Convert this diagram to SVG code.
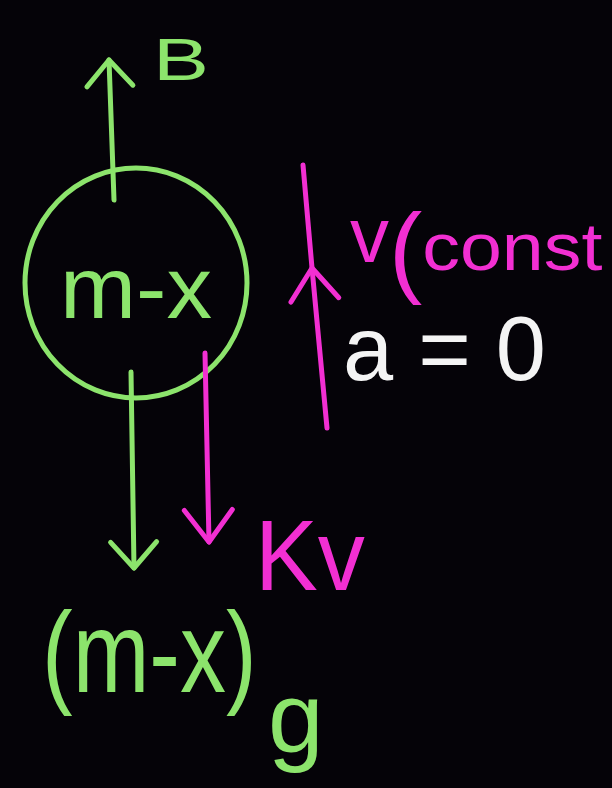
<svg xmlns="http://www.w3.org/2000/svg" width="612" height="788" viewBox="0 0 612 788">
<style>
.g{fill:#8ce46c;font-family:"Liberation Sans",Arial,sans-serif}
.p{fill:#f22fd2;font-family:"Liberation Sans",Arial,sans-serif}
.w{fill:#f4f4f4;font-family:"Liberation Sans",Arial,sans-serif}
.sg{fill:none;stroke:#8ce46c;stroke-width:5;stroke-linecap:round;stroke-linejoin:round}
.sp{fill:none;stroke:#f22fd2;stroke-width:5;stroke-linecap:round;stroke-linejoin:round}
</style>
<defs>
<marker id="hg" viewBox="-40 -40 80 80" markerWidth="80" markerHeight="80" markerUnits="userSpaceOnUse" refX="0" refY="0" orient="auto">
<path d="M-26,-23 L0,0 L-26,23" class="sg"/>
</marker>
<marker id="hp" viewBox="-40 -40 80 80" markerWidth="80" markerHeight="80" markerUnits="userSpaceOnUse" refX="0" refY="0" orient="auto">
<path d="M-32,-24 L0,0 L-32,24" class="sp"/>
</marker>
</defs>
<rect width="612" height="788" fill="#050308"/>
<g id="body">
<ellipse cx="136" cy="283" rx="111" ry="115" class="sg"/>
<text x="60" y="318" class="g" font-size="88" textLength="152" lengthAdjust="spacingAndGlyphs">m-x</text>
</g>
<g id="label-B"><text x="153" y="80" class="g" font-size="60" textLength="56" lengthAdjust="spacingAndGlyphs">B</text></g>
<g id="label-weight">
<text transform="translate(42,692) scale(1,1.25)" class="g" font-size="92">(m-x)</text>
<text x="268" y="752" class="g" font-size="100">g</text>
</g>
<g id="label-kv"><text x="255" y="590" class="p" font-size="100" textLength="110" lengthAdjust="spacingAndGlyphs">Kv</text></g>
<g id="label-velocity"><text x="350" y="262" class="p"><tspan font-size="78">v</tspan><tspan font-size="100" dy="22">(</tspan><tspan font-size="66" dy="-14" textLength="180" lengthAdjust="spacingAndGlyphs">const</tspan></text></g>
<g id="eq-a"><text x="343" y="380" class="w" font-size="90" textLength="203" lengthAdjust="spacingAndGlyphs">a = 0</text></g>
<g id="connectors">
<path d="M114,200 L109,60" class="sg" marker-end="url(#hg)"/>
<path d="M131,372 L134,568" class="sg" marker-end="url(#hg)"/>
<path d="M205,353 L209,542" class="sp" marker-end="url(#hp)"/>
<path d="M327,428 L312,268 L303,165" class="sp" marker-mid="url(#hp)"/>
</g>
</svg>
